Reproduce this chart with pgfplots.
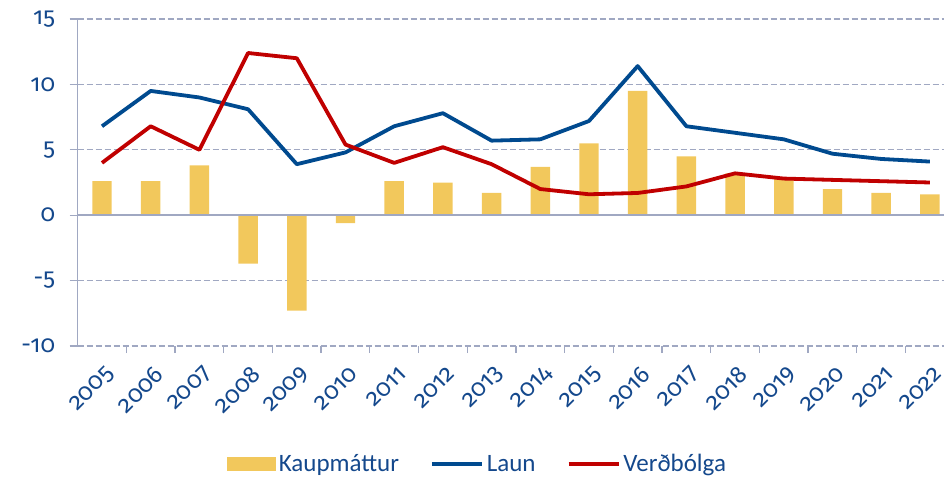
\documentclass[border=0pt]{standalone}
\usepackage{fontspec}
\setmainfont{Carlito}
\newfontfamily\numfont{Fira Sans}[Numbers=OldStyle]
\usepackage{pgfplots}
\pgfplotsset{compat=1.18}
\definecolor{txt}{RGB}{20,72,140}
\definecolor{gridc}{RGB}{160,168,194}
\definecolor{barc}{RGB}{242,200,92}
\definecolor{laun}{RGB}{0,74,143}
\definecolor{verd}{RGB}{192,0,0}
\pgfplotstableread{
x kaup laun verd
0 2.6 6.8 4.0
1 2.6 9.5 6.8
2 3.8 9.0 5.0
3 -3.7 8.1 12.4
4 -7.3 3.9 12.0
5 -0.6 4.8 5.4
6 2.6 6.8 4.0
7 2.5 7.8 5.2
8 1.7 5.7 3.9
9 3.7 5.8 2.0
10 5.5 7.2 1.6
11 9.5 11.4 1.7
12 4.5 6.8 2.2
13 3.2 6.3 3.2
14 2.85 5.8 2.8
15 2.0 4.7 2.7
16 1.7 4.3 2.6
17 1.6 4.1 2.5
}\data
\begin{document}
\begin{tikzpicture}
\useasboundingbox (0,0) rectangle (944pt,477pt);
\pgfplotsset{common/.style={scale only axis, width=866.35pt, height=327pt,
  xmin=-0.5, xmax=17.29, ymin=-10, ymax=15, at={(77.65pt,131pt)}, anchor=south west}}
\begin{axis}[common,
  axis x line*=bottom, axis y line*=left,
  x axis line style={draw=none},
  y axis line style={gridc, line width=1.5pt},
  xtick={0,...,17},
  xticklabels={2005,2006,2007,2008,2009,2010,2011,2012,2013,2014,2015,2016,2017,2018,2019,2020,2021,2022},
  xtick style={draw=none},
  ytick={-10,-5,0,5,10,15},
  yticklabels={-10,-5,0,5,10,15},
  ytick style={gridc, line width=1.3pt},
  tick align=outside, major tick length=8pt,
  ymajorgrids, grid style={gridc, line width=1.3pt, dash pattern=on 6pt off 3pt},
  tick label style={font=\numfont\fontsize{24}{24}\selectfont, text=txt},
  yticklabel style={xshift=-11pt},
  xticklabel style={font=\numfont\fontsize{24}{24}\selectfont, shift={(11pt,-14pt)}, rotate=45, anchor=east},
  legend style={at={(axis description cs:0.462,-0.361)}, anchor=center, draw=none, fill=none,
    font=\fontsize{25}{25}\selectfont, text=txt, nodes={inner sep=3pt},
    /tikz/every even column/.append style={column sep=28pt}},
  legend columns=3, legend cell align=left,
  clip=false,
]
\addplot[ybar, bar width=0.4, fill=barc, draw=none,
  legend image code/.code={\fill[barc] (0pt,-7pt) rectangle (49pt,7pt);}] table[x=x, y=kaup] {\data};
\addlegendentry{Kaupmáttur}
\addplot[laun, line width=3.8pt, line join=round,
  legend image code/.code={\draw[laun, line width=3.8pt] (0pt,0pt) -- (50pt,0pt);}] table[x=x, y=laun] {\data};
\addlegendentry{Laun}
\addplot[verd, line width=3.8pt, line join=round,
  legend image code/.code={\draw[verd, line width=3.8pt] (0pt,0pt) -- (50pt,0pt);}] table[x=x, y=verd] {\data};
\addlegendentry{Verðbólga}
\end{axis}
\begin{axis}[common,
  axis x line=middle, axis y line=none,
  axis line style={-, gridc, line width=1.5pt},
  xtick={0.5,1.5,...,16.5}, xticklabels={},
  xtick style={gridc, line width=1.3pt},
  tick align=outside, xtick pos=left, major tick length=7pt,
]
\end{axis}
\end{tikzpicture}
\end{document}
